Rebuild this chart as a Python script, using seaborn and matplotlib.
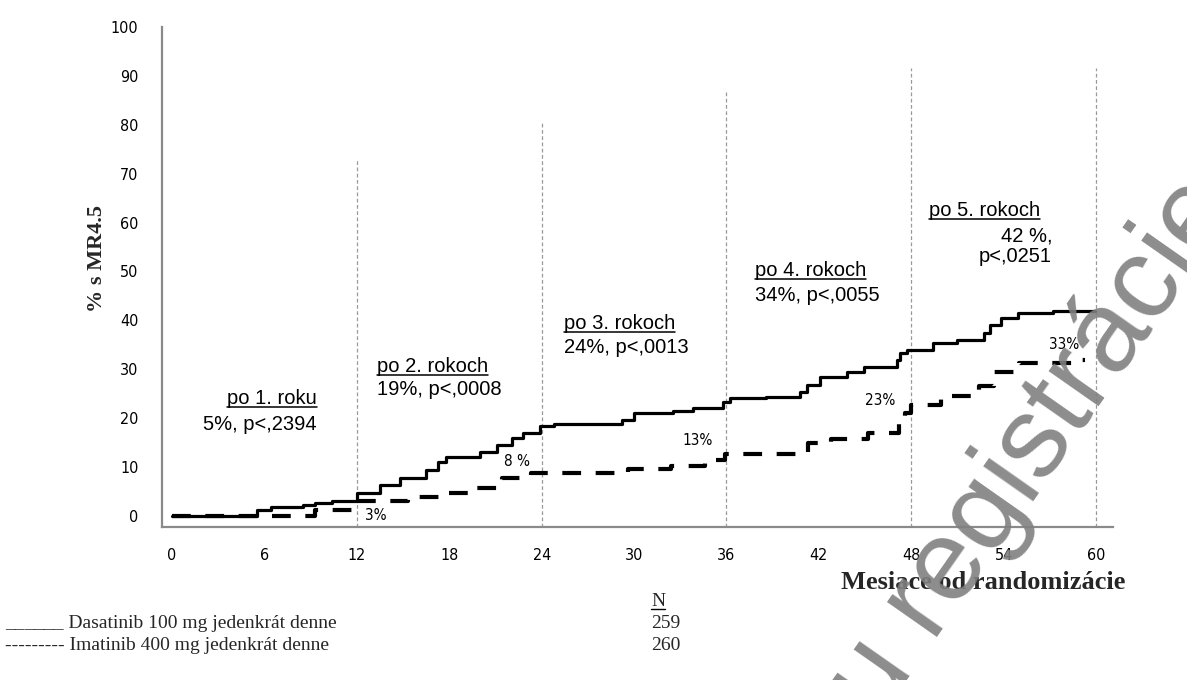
import matplotlib
matplotlib.use("Agg")
import matplotlib.pyplot as plt
from matplotlib.lines import Line2D
from matplotlib.transforms import IdentityTransform
import seaborn as sns

# Cumulative rate of MR4.5 (%), Kaplan-Meier style step curves
dasatinib_months = [0, 5.5, 6.4, 8.5, 9.3, 10.4, 12.0, 13.5, 14.8, 16.5, 17.3, 17.8,
                    20.0, 21.1, 22.1, 22.8, 23.9, 24.8, 29.2, 30.0, 32.5, 33.8, 35.8, 36.2,
                    38.6, 40.8, 41.2, 42.1, 43.8, 44.9, 47.1, 47.3, 47.7, 49.4, 51.0, 52.7,
                    53.1, 53.8, 54.9, 57.2, 59.9]
dasatinib_pct = [0, 1.2, 1.8, 2.2, 2.6, 3.0, 4.8, 6.3, 7.7, 9.4, 11.0, 12.1,
                 13.0, 14.5, 16.0, 17.0, 18.4, 18.9, 19.6, 21.0, 21.5, 22.1, 23.3, 24.1,
                 24.3, 25.4, 26.8, 28.4, 29.4, 30.5, 31.9, 33.3, 34.0, 35.4, 36.0, 37.4,
                 39.0, 40.5, 41.5, 42.0, 42.0]

imatinib_months = [0, 9.3, 11.9, 15.3, 17.4, 19.6, 21.4, 23.3, 29.6, 32.4, 34.6, 35.9,
                   41.3, 42.8, 45.2, 47.2, 47.6, 48.0, 49.9, 52.4, 53.4, 55.0, 58.9, 59.3]
imatinib_pct = [0, 1.2, 3.0, 3.9, 4.7, 5.7, 7.8, 8.8, 9.6, 10.2, 11.4, 12.7,
                15.0, 15.7, 17.0, 19.0, 21.0, 22.8, 24.5, 26.5, 29.5, 31.3, 32.0, 32.0]

# Yearly landmarks
landmark_months = [12, 24, 36, 48, 60]
landmark_titles = ["po 1. roku", "po 2. rokoch", "po 3. rokoch", "po 4. rokoch", "po 5. rokoch"]
landmark_dasatinib = ["5%, p<,2394", "19%, p<,0008", "24%, p<,0013", "34%, p<,0055", "42 %,\np<,0251"]
landmark_imatinib = ["3%", "8 %", "13%", "23%", "33%"]

arm_labels = ["______ Dasatinib 100 mg jedenkrát denne", "--------- Imatinib 400 mg jedenkrát denne"]
arm_n = ["259", "260"]

W, H = 1187, 680
sns.set_theme(style="white")
plt.rcParams["font.family"] = ["Liberation Sans", "DejaVu Sans"]

fig = plt.figure(figsize=(W / 100, H / 100), dpi=100)
ax = fig.add_axes([162 / W, 1 - 527 / H, (1113 - 162) / W, (527 - 27) / H])

# landmark guide lines
guide_tops = [72.8, 80.4, 86.7, 91.6, 91.6]
ax.vlines(landmark_months, ymin=-2.25, ymax=guide_tops, colors="#9a9a9a",
          linestyles=(0, (3, 2)), lw=0.9, zorder=1)

sns.lineplot(x=dasatinib_months, y=dasatinib_pct, ax=ax, color="black", lw=2.3,
             drawstyle="steps-post", estimator=None, sort=False, zorder=3)
sns.lineplot(x=imatinib_months, y=imatinib_pct, ax=ax, color="black", lw=3.0,
             drawstyle="steps-post", estimator=None, sort=False, zorder=3,
             linestyle=(0, (4.5, 3.5)))

ax.set_xlim(-0.65, 61.1)
ax.set_ylim(-2.25, 100)
ax.set_xticks(range(0, 61, 3))
ax.set_xticklabels([str(m) if m % 6 == 0 else "" for m in range(0, 61, 3)])
ax.set_yticks(range(0, 101, 10))
ax.set_xlabel("")
ax.set_ylabel("")
for s in ["top", "right"]:
    ax.spines[s].set_visible(False)
for s in ["left", "bottom"]:
    ax.spines[s].set_color("#8a8a8a")
    ax.spines[s].set_linewidth(1.6)
tick_font = ["DejaVu Sans", "Liberation Sans"]
ax.tick_params(axis="both", length=7, width=1.5, color="#8a8a8a", labelsize=11.5,
               labelcolor="black")
ax.tick_params(axis="y", pad=10)
ax.tick_params(axis="x", pad=8)
for lab in ax.get_xticklabels() + ax.get_yticklabels():
    lab.set_family(tick_font)
    lab.set_stretch("condensed")

renderer = fig.canvas.get_renderer()


def underline(txt, gap=3, lw=1.1):
    bb = txt.get_window_extent(renderer)
    y = txt.get_transform().transform(txt.get_position())[1] - gap
    fig.add_artist(Line2D([bb.x0, bb.x1], [y, y], transform=IdentityTransform(),
                          color="black", lw=lw))


# landmark annotations (title underlined, then rate and p-value)
title_pos = [(9.42, 22.9, "right"), (13.3, 29.4, "left"), (25.45, 38.2, "left"),
             (37.86, 49.1, "left"), (49.16, 61.3, "left")]
value_pos = [(9.42, 17.6, "right"), (13.3, 24.7, "left"), (25.45, 33.3, "left"),
             (37.86, 44.0, "left"), (57.14, 56.2, "right")]
for title, val, (tx, ty, tha), (vx, vy, vha) in zip(landmark_titles, landmark_dasatinib,
                                                    title_pos, value_pos):
    t = ax.text(tx, ty, title, ha=tha, va="baseline", fontsize=14.5, color="black")
    underline(t)
    for k, line in enumerate(val.split("\n")):
        ax.text(vx, vy - 4.3 * k, line, ha=vha, va="baseline", fontsize=14.5,
                color="black")

pct_pos = [(13.25, 0.2), (22.4, 11.2), (34.1, 15.5), (46.0, 23.7), (57.9, 35.0)]
for lab, (px, py) in zip(landmark_imatinib, pct_pos):
    ax.text(px, py, lab, ha="center", va="center", fontsize=11, family=tick_font,
            stretch="condensed", color="black", zorder=4)

# axis titles
serif = ["Liberation Serif", "DejaVu Serif"]
fig.text(97 / W, 1 - 258 / H, "% s MR4.5", rotation=90, ha="center", va="center",
         fontsize=16, fontweight="bold", family=serif)
fig.text(841 / W, 1 - 589 / H, "Mesiace od randomizácie", ha="left", va="baseline",
         fontsize=19, fontweight="bold", family=serif)

# treatment arms and patient numbers
n_head = fig.text(651 / W, 1 - 606 / H, "N", ha="left", va="baseline", fontsize=14,
                  family=serif)
underline(n_head, gap=3, lw=1.0)
for i, (lab, n) in enumerate(zip(arm_labels, arm_n)):
    yb = 1 - (628 + 22 * i) / H
    fig.text(5 / W, yb, lab, ha="left", va="baseline", fontsize=14, family=serif)
    fig.text(651 / W, yb, n, ha="left", va="baseline", fontsize=14, family=serif)

# watermark
fig.text(841 / W, 1 - 774 / H, "ou registrácie", rotation=55, rotation_mode="anchor",
         ha="left", va="baseline", fontsize=83, color="#808080", alpha=0.9,
         family=["Liberation Sans", "DejaVu Sans"], zorder=10)

fig.savefig("out.png", dpi=100, facecolor="white")
